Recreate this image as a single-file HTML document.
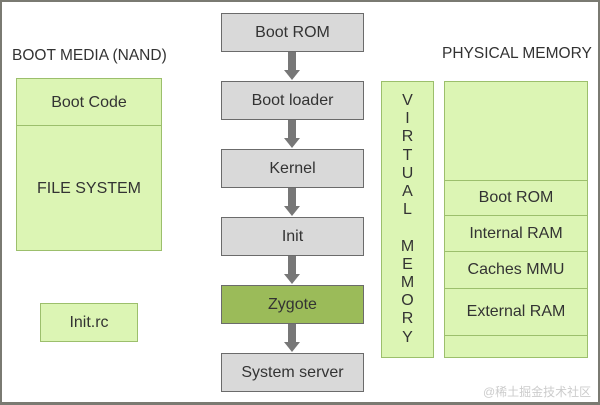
<!DOCTYPE html>
<html><head><style>
body{margin:0;width:600px;height:405px;position:relative;background:#fff;font-family:"Liberation Sans",sans-serif;color:#333;overflow:hidden}
.a{position:absolute;box-sizing:border-box}
.g{background:#d9d9d9;border:1px solid #6b6b6b;display:flex;align-items:center;justify-content:center;font-size:16px}
.l{background:#dcf5b4;border:1px solid #9cbf6c}
.c{display:flex;align-items:center;justify-content:center;font-size:16px}
.h{height:1px;background:#9cbf6c;left:0;right:0;position:absolute}
</style></head><body>
<div class="a" style="left:0;top:0;width:600px;height:405px;border:2px solid #7a7a72;border-bottom-width:3px"></div>
<div class="a" style="left:12px;top:47px;font-size:15.5px">BOOT MEDIA (NAND)</div>
<div class="a l" style="left:16px;top:78px;width:146px;height:173px">
 <div class="a c" style="left:0;top:0;width:144px;height:47px">Boot Code</div>
 <div class="h" style="top:46px"></div>
 <div class="a c" style="left:0;top:47px;width:144px;height:125px">FILE SYSTEM</div>
</div>
<div class="a l c" style="left:40px;top:303px;width:98px;height:39px">Init.rc</div>

<div class="a g" style="left:221px;top:13px;width:143px;height:39px">Boot ROM</div>
<div class="a g" style="left:221px;top:81px;width:143px;height:39px">Boot loader</div>
<div class="a g" style="left:221px;top:149px;width:143px;height:39px">Kernel</div>
<div class="a g" style="left:221px;top:217px;width:143px;height:39px">Init</div>
<div class="a g" style="left:221px;top:285px;width:143px;height:39px;background:#9bbb59">Zygote</div>
<div class="a g" style="left:221px;top:353px;width:143px;height:39px">System server</div>
<svg class="a" style="left:0;top:0" width="600" height="405">
<g fill="#777">
<rect x="288" y="52" width="8" height="19"/><polygon points="284,70 300,70 292,80"/>
<rect x="288" y="120" width="8" height="19"/><polygon points="284,138 300,138 292,148"/>
<rect x="288" y="188" width="8" height="19"/><polygon points="284,206 300,206 292,216"/>
<rect x="288" y="256" width="8" height="19"/><polygon points="284,274 300,274 292,284"/>
<rect x="288" y="324" width="8" height="19"/><polygon points="284,342 300,342 292,352"/>
</g></svg>

<div class="a" style="left:442px;top:45px;font-size:15.5px">PHYSICAL MEMORY</div>
<div class="a l" style="left:381px;top:81px;width:53px;height:277px">
 <div class="a" style="left:0;top:10px;width:51px;text-align:center;font-size:16px;line-height:18.2px">V<br>I<br>R<br>T<br>U<br>A<br>L<br><br>M<br>E<br>M<br>O<br>R<br>Y</div>
</div>
<div class="a l" style="left:444px;top:81px;width:144px;height:277px">
 <div class="h" style="top:98px"></div>
 <div class="a c" style="left:0;top:99px;width:142px;height:34px">Boot ROM</div>
 <div class="h" style="top:133px"></div>
 <div class="a c" style="left:0;top:134px;width:142px;height:35px">Internal RAM</div>
 <div class="h" style="top:169px"></div>
 <div class="a c" style="left:0;top:170px;width:142px;height:36px">Caches MMU</div>
 <div class="h" style="top:206px"></div>
 <div class="a c" style="left:0;top:207px;width:142px;height:46px">External RAM</div>
 <div class="h" style="top:253px"></div>
</div>
<div class="a" style="left:483px;top:383px;font-size:12px;color:#ccc;font-family:'Liberation Sans','Noto Sans CJK SC',sans-serif">@稀土掘金技术社区</div>
</body></html>
